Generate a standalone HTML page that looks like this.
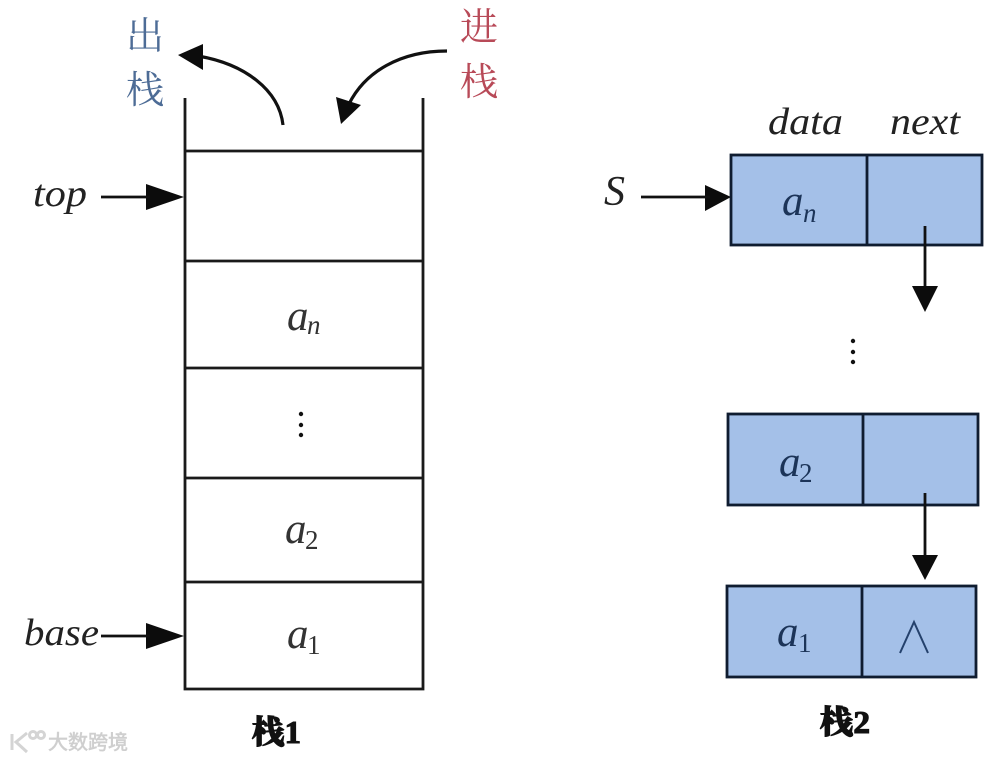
<!DOCTYPE html>
<html lang="zh">
<head>
<meta charset="utf-8">
<title>栈</title>
<style>
html,body{margin:0;padding:0;background:#fff;}
svg{display:block;filter:blur(.35px);}
.it{font-family:"Liberation Serif","Noto Serif CJK SC",serif;font-style:italic;fill:#222;}
.sub{font-family:"Liberation Serif",serif;font-style:italic;fill:#333;}
.subn{font-family:"Liberation Serif",serif;fill:#333;}
.cjk{font-family:"Liberation Serif","Noto Serif CJK SC",serif;}
.ttl{font-family:"Liberation Serif","Noto Serif CJK SC",serif;font-weight:900;fill:#111;stroke:#111;stroke-width:1.1;}
.dk{font-family:"Liberation Serif",serif;fill:#1c3458;font-style:italic;}
.dkn{font-family:"Liberation Serif",serif;fill:#1c3458;}
</style>
</head>
<body>
<svg width="986" height="760" viewBox="0 0 986 760" xmlns="http://www.w3.org/2000/svg">
<rect width="986" height="760" fill="#fff"/>

<!-- Stack 1 -->
<g stroke="#1a1a1a" stroke-width="2.8" fill="none">
  <path d="M185 98V689H423V98"/>
  <path d="M185 151H423M185 261H423M185 368H423M185 478H423M185 582H423"/>
</g>

<!-- Curved arrows -->
<g fill="none" stroke="#111" stroke-width="3.2">
  <path d="M283 125C279 90 245 64 198 56"/>
  <path d="M447 51C400 51 365 72 349 104"/>
</g>
<g fill="#0c0c0c">
  <polygon points="178,55 203,44 203,70"/>
  <polygon points="341,124 336,97 361,105"/>
  <polygon points="146,184 146,210 184,197"/>
  <polygon points="146,623 146,649 184,636"/>
  <polygon points="705,185 705,211 731,197"/>
</g>
<g stroke="#111" stroke-width="2.8">
  <path d="M101 197H150M101 636H150M641 197H710"/>
</g>

<!-- Stack labels -->
<text class="cjk" x="126" y="49" font-size="38" fill="#4d6c96">出</text>
<text class="cjk" x="126" y="103" font-size="38" fill="#4d6c96">栈</text>
<text class="cjk" x="460" y="40" font-size="38" fill="#b84a58">进</text>
<text class="cjk" x="460" y="95" font-size="38" fill="#b84a58">栈</text>

<text class="it" x="33" y="206" font-size="38" textLength="54" lengthAdjust="spacingAndGlyphs">top</text>
<text class="it" x="24" y="645" font-size="38" textLength="75" lengthAdjust="spacingAndGlyphs">base</text>

<text class="sub" x="287" y="330" font-size="43">a</text>
<text class="sub" x="307" y="334" font-size="27">n</text>
<g fill="#111">
  <circle cx="301" cy="414" r="2.2"/><circle cx="301" cy="425" r="2.2"/><circle cx="301" cy="435" r="2.2"/>
</g>
<text class="sub" x="285" y="543" font-size="43">a</text>
<text class="subn" x="305" y="549" font-size="27">2</text>
<text class="sub" x="287" y="648" font-size="43">a</text>
<text class="subn" x="307" y="654" font-size="27">1</text>

<text class="ttl" x="252" y="743" font-size="32" textLength="49" lengthAdjust="spacingAndGlyphs">栈1</text>

<!-- List -->
<g fill="#a4c0e8" stroke="#0f1c30" stroke-width="2.8">
  <rect x="731" y="155" width="251" height="90"/>
  <rect x="728" y="414" width="250" height="91"/>
  <rect x="727" y="586" width="249" height="91"/>
</g>
<g stroke="#0f1c30" stroke-width="2.8">
  <path d="M867 155V245M863 414V505M862 586V677"/>
</g>

<text class="it" x="768" y="134" font-size="38" textLength="75" lengthAdjust="spacingAndGlyphs">data</text>
<text class="it" x="890" y="134" font-size="38" textLength="70" lengthAdjust="spacingAndGlyphs">next</text>
<text class="it" x="604" y="205" font-size="42">S</text>

<text class="dk" x="782" y="215" font-size="43">a</text>
<text class="dk" x="803" y="222" font-size="27">n</text>
<text class="dk" x="779" y="476" font-size="43">a</text>
<text class="dkn" x="799" y="482" font-size="27">2</text>
<text class="dk" x="777" y="646" font-size="43">a</text>
<text class="dkn" x="798" y="652" font-size="27">1</text>

<path d="M900 653L914 622L928 653" fill="none" stroke="#24416c" stroke-width="2"/>

<!-- List arrows -->
<g stroke="#111" stroke-width="2.8">
  <path d="M925 226V290M925 493V560"/>
</g>
<g fill="#0c0c0c">
  <polygon points="912,286 938,286 925,312"/>
  <polygon points="912,555 938,555 925,580"/>
</g>
<g fill="#111">
  <circle cx="853" cy="341" r="2.2"/><circle cx="853" cy="352" r="2.2"/><circle cx="853" cy="362" r="2.2"/>
</g>

<text class="ttl" x="820" y="733" font-size="32" textLength="50" lengthAdjust="spacingAndGlyphs">栈2</text>

<!-- Watermark -->
<g fill="none" stroke="#d4d4d4" stroke-width="3">
  <path d="M12 734V750M27 733L16 742L27 752"/>
  <circle cx="33" cy="735" r="3.5"/>
  <circle cx="41" cy="735" r="3.5"/>
</g>
<text x="48" y="749" font-size="20" textLength="80" lengthAdjust="spacingAndGlyphs" fill="#cfcfcf" stroke="#cfcfcf" stroke-width=".6" font-family="'Liberation Sans','Noto Sans CJK SC',sans-serif">大数跨境</text>
</svg>
</body>
</html>
